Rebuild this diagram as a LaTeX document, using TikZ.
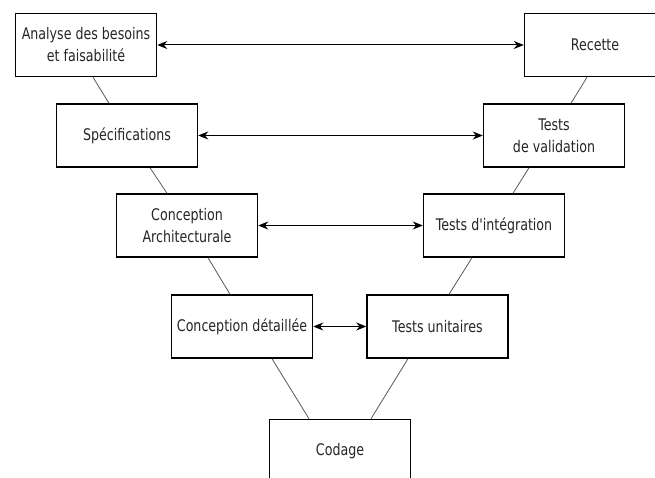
\documentclass[tikz,border=0pt]{standalone}
\usepackage{fontspec}
\setmainfont{DejaVu Sans}[FakeStretch=0.79,Ligatures=TeXOff]
\usetikzlibrary{arrows.meta}
\begin{document}
\begin{tikzpicture}[x=1pt,y=-1pt,
  phase/.style={draw=black,line width=1.5pt,fill=white,minimum width=141pt,minimum height=63pt,inner sep=0pt,align=center,font=\fontsize{16}{22}\selectfont,text=black!85},
  link/.style={draw=black!65,line width=0.8pt},
  pair/.style={draw=black,line width=1pt,{Stealth[length=10pt,width=8pt]}-{Stealth[length=10pt,width=8pt]}}]
\useasboundingbox (0,0) rectangle (655,478);
\fill[white] (0,0) rectangle (655,478);
\node[phase] (A) at (86,45) {Analyse des besoins\\et faisabilité};
\node[phase] (S) at (127,135.5) {Spécifications};
\node[phase] (CA) at (187,225.5) {Conception\\Architecturale};
\node[phase] (CD) at (242,326.5) {Conception détaillée};
\node[phase] (Co) at (340,451) {Codage};
\node[phase] (TU) at (437.5,326.5) {Tests unitaires};
\node[phase] (TI) at (494,225.5) {Tests d'intégration};
\node[phase] (TV) at (554,135.5) {Tests\\de validation};
\node[phase] (R) at (595,45) {Recette};
\draw[link] ([xshift=7pt]A.south) -- ([xshift=-18pt]S.north);
\draw[link] ([xshift=23pt]S.south) -- ([xshift=-20pt]CA.north);
\draw[link] ([xshift=21pt]CA.south) -- ([xshift=-12pt]CD.north);
\draw[link] ([xshift=30pt]CD.south) -- ([xshift=-31pt]Co.north);
\draw[link] ([xshift=-29.5pt]TU.south) -- ([xshift=31pt]Co.north);
\draw[link] ([xshift=-22pt]TI.south) -- ([xshift=11.5pt]TU.north);
\draw[link] ([xshift=-25pt]TV.south) -- ([xshift=19pt]TI.north);
\draw[link] ([xshift=-8pt]R.south) -- ([xshift=17pt]TV.north);
\draw[pair] (A.east) -- (R.west);
\draw[pair] (S.east) -- (TV.west);
\draw[pair] (CA.east) -- (TI.west);
\draw[pair] (CD.east) -- (TU.west);
\end{tikzpicture}
\end{document}
